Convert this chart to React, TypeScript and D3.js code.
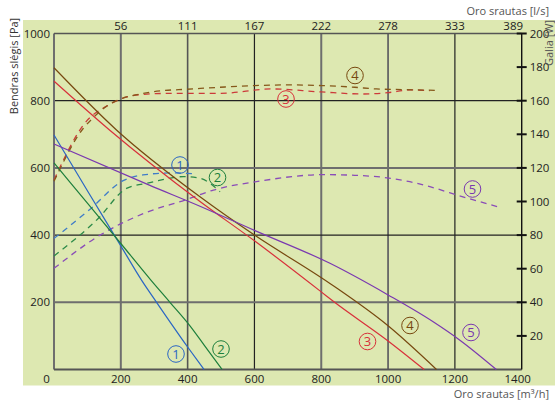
import React from "react";
import * as d3 from "d3";

// ---- data (x: air flow m³/h, pressure: Pa, power: W) ----
const xTicks = [0, 200, 400, 600, 800, 1000, 1200, 1400];
const topTickLabels = ["", "56", "111", "167", "222", "278", "333", "389"];
const yTicks = [0, 200, 400, 600, 800, 1000];
const wTicks = [20, 40, 60, 80, 100, 120, 140, 160, 180, 200];

const p1: [number, number][] = [[0, 698], [100, 532], [200, 368], [262, 266], [307, 200], [400, 67], [449, 0]];
const p2: [number, number][] = [[0, 615], [100, 495], [200, 375], [290, 266], [347, 200], [407, 130], [450, 72], [503, 0]];
const p3: [number, number][] = [[0, 858], [167, 712], [437, 500], [600, 383], [800, 231], [836, 203], [1000, 85], [1108, 0]];
const p4: [number, number][] = [[0, 898], [187, 713], [437, 514], [600, 400], [826, 256], [1000, 130], [1145, 0]];
const p5: [number, number][] = [[0, 671], [287, 548], [437, 486], [600, 414], [826, 316], [1000, 222], [1135, 142], [1214, 88], [1324, 0]];

const w1: [number, number][] = [[0, 78], [108, 95.4], [207, 112.4], [266, 115.8], [350, 117], [427, 116.4]];
const w2: [number, number][] = [[0, 67.6], [133, 90], [217, 107.8], [287, 111.2], [387, 114.8], [437, 113.8], [497, 105.8]];
const w3: [number, number][] = [[0, 112.8], [98, 148], [158, 156.8], [192, 160.4], [257, 163.6], [356, 164.4], [500, 164.4], [650, 167], [800, 165.2], [925, 164], [1000, 164.8], [1065, 166.4], [1125, 166]];
const w4: [number, number][] = [[0, 112], [88, 143.6], [113, 149], [158, 156.8], [192, 160.4], [257, 164], [327, 166], [397, 166.8], [497, 168], [600, 169], [700, 169.4], [800, 169], [900, 168], [965, 167], [1050, 166.6], [1140, 166.2]];
const w5: [number, number][] = [[0, 60.2], [138, 80], [270, 93], [397, 101.2], [477, 106.8], [606, 111.8], [806, 116], [900, 115.6], [985, 114.4], [1065, 111.8], [1125, 108.8], [1224, 102.8], [1330, 96.8]];

const colors = ["#2a66c4", "#1d7f3c", "#d8303a", "#77480f", "#7a38b0"];
const dashColors = ["#3f7cc8", "#2c8a48", "#cc3a3a", "#86581a", "#8a4cb8"];
const pressureSeries = [p1, p2, p3, p4, p5];
const powerSeries = [w1, w2, w3, w4, w5];
const labelsTop: [number, number][] = [[180, 165], [217.5, 177.5], [286, 99], [355, 75.5], [472.5, 189]];
const labelsBottom: [number, number][] = [[176, 354], [221, 349], [367.5, 341.5], [410, 325.5], [471, 332.5]];

export default function App() {
  const x = d3.scaleLinear().domain([0, 1400]).range([54, 521.7]);
  const y = d3.scaleLinear().domain([0, 1000]).range([369.5, 33.5]);
  const yw = d3.scaleLinear().domain([0, 200]).range([369.5, 33.5]);
  const lineP = d3.line<[number, number]>().x(d => x(d[0])).y(d => y(d[1])).curve(d3.curveMonotoneX);
  const lineW = d3.line<[number, number]>().x(d => x(d[0])).y(d => yw(d[1])).curve(d3.curveMonotoneX);
  const font = "'Open Sans', 'DejaVu Sans', sans-serif";

  const vStyle: Record<number, [string, number]> = {
    200: ["#6e6e6e", 2], 400: ["#555", 1.6], 600: ["#222", 1.2], 800: ["#6e6e6e", 2], 1000: ["#666", 1.8], 1200: ["#222", 1.2],
  };
  const hStyle: Record<number, [string, number]> = {
    200: ["#6e6e6e", 2], 400: ["#222", 1.2], 600: ["#6e6e6e", 2], 800: ["#222", 1.2],
  };

  return (
    <svg width={555} height={402} style={{ position: "absolute", left: 0, top: 0 }} fontFamily={font}>
      <rect x={0} y={0} width={555} height={402} fill="#fff" />
      <rect x={23} y={20} width={532} height={365.5} fill="#dde8b1" />
      {/* grid */}
      {xTicks.slice(1, -1).map(t => (
        <line key={"v" + t} x1={x(t)} x2={x(t)} y1={y(1000)} y2={y(0)} stroke={vStyle[t][0]} strokeWidth={vStyle[t][1]} />
      ))}
      {yTicks.slice(1, -1).map(t => (
        <line key={"h" + t} x1={x(0)} x2={x(1400)} y1={y(t)} y2={y(t)} stroke={hStyle[t][0]} strokeWidth={hStyle[t][1]} />
      ))}
      {/* frame */}
      <line x1={x(0)} x2={x(0)} y1={y(1000)} y2={y(0)} stroke="#6e6e6e" strokeWidth={2} />
      <line x1={x(0)} x2={x(1400)} y1={y(0)} y2={y(0)} stroke="#555" strokeWidth={1.8} />
      <line x1={x(0)} x2={x(1400)} y1={y(1000)} y2={y(1000)} stroke="#555" strokeWidth={1.6} />
      <line x1={x(1400)} x2={x(1400)} y1={y(1000)} y2={y(0)} stroke="#111" strokeWidth={1.4} />
      {/* right ticks */}
      {wTicks.map(t => (
        <g key={"w" + t}>
          <line x1={x(1400) - 5} x2={x(1400) + 5} y1={yw(t)} y2={yw(t)} stroke="#111" strokeWidth={2} />
          <text x={x(1400) + 8} y={yw(t)} dy="0.35em" fontSize={11.5} fill="#222">{t}</text>
        </g>
      ))}
      {/* left labels */}
      {yTicks.map(t => (
        <text key={"y" + t} x={50} y={t === 0 ? 383 : y(t)} dy={t === 0 ? 0 : "0.35em"} textAnchor="end" fontSize={11.5} fill="#222">
          {t === 0 ? "" : t}
        </text>
      ))}
      {/* bottom labels */}
      {xTicks.map((t, i) => (
        <text key={"x" + t} x={i === 0 ? 46.5 : i === xTicks.length - 1 ? x(t) - 4 : x(t)} y={383} textAnchor="middle" fontSize={11.5} fill="#222">{t}</text>
      ))}
      {/* top labels */}
      {xTicks.map((t, i) => (
        topTickLabels[i] ? (
          <text key={"t" + t} x={i === xTicks.length - 1 ? x(t) - 8.5 : x(t)} y={29.5} textAnchor="middle" fontSize={11.5} fill="#222">{topTickLabels[i]}</text>
        ) : null
      ))}
      {/* axis titles */}
      <text x={549} y={15} textAnchor="end" fontSize={11} fill="#555">Oro srautas [l/s]</text>
      <text x={549} y={398} textAnchor="end" fontSize={11} fill="#555">Oro srautas [m³/h]</text>
      <text transform="translate(18,66) rotate(-90)" textAnchor="middle" fontSize={11} fill="#333">Bendras slėgis [Pa]</text>
      <text transform="translate(552.5,66) rotate(-90)" textAnchor="start" fontSize={11} fill="#555">Galia [W]</text>
      {/* power (dashed) */}
      {powerSeries.map((s, i) => (
        <path key={"pw" + i} d={lineW(s) || ""} fill="none" stroke={dashColors[i]} strokeWidth={1.3} strokeDasharray="6,5" />
      ))}
      {/* pressure (solid) */}
      {pressureSeries.map((s, i) => (
        <path key={"pp" + i} d={lineP(s) || ""} fill="none" stroke={colors[i]} strokeWidth={1.2} />
      ))}
      {/* circled labels */}
      {[labelsTop, labelsBottom].map((arr, k) =>
        arr.map((p, i) => (
          <g key={"lab" + k + i}>
            <circle cx={p[0]} cy={p[1]} r={8.3} fill="none" stroke={colors[i]} strokeWidth={1} />
            <text x={p[0]} y={p[1]} dy="0.36em" textAnchor="middle" fontSize={13} fill={colors[i]}>{i + 1}</text>
          </g>
        ))
      )}
    </svg>
  );
}
